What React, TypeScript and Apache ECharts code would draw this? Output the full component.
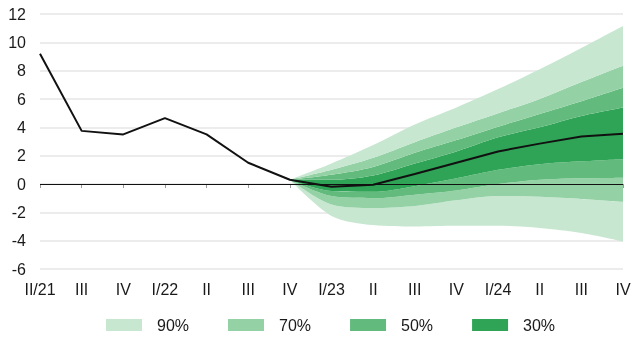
import React, { useEffect, useRef } from "react";
import * as echarts from "echarts";

const categories = ["II/21", "III", "IV", "I/22", "II", "III", "IV", "I/23", "II", "III", "IV", "I/24", "II", "III", "IV"];

// Observed / central projection
const centralLine = [9.2, 3.75, 3.5, 4.65, 3.5, 1.5, 0.3, -0.2, -0.05, 0.7, 1.5, 2.3, 2.85, 3.35, 3.55];

// Fan bounds (from IV/22 on; earlier quarters have no band)
const hi90 = [null, null, null, null, null, null, 0.3, 1.45, 2.75, 4.2, 5.4, 6.7, 8.1, 9.6, 11.15];
const hi70 = [null, null, null, null, null, null, 0.3, 1.0, 1.85, 2.95, 4.0, 5.0, 6.0, 7.2, 8.35];
const hi50 = [null, null, null, null, null, null, 0.3, 0.65, 1.2, 2.2, 3.1, 4.05, 4.95, 5.85, 6.8];
const hi30 = [null, null, null, null, null, null, 0.3, 0.3, 0.6, 1.45, 2.3, 3.3, 4.0, 4.8, 5.4];
const lo30 = [null, null, null, null, null, null, 0.3, -0.5, -0.55, -0.15, 0.4, 1.0, 1.4, 1.6, 1.75];
const lo50 = [null, null, null, null, null, null, 0.3, -0.85, -1.0, -0.75, -0.45, 0.0, 0.3, 0.4, 0.45];
const lo70 = [null, null, null, null, null, null, 0.3, -1.45, -1.7, -1.55, -1.15, -0.85, -0.9, -1.05, -1.25];
const lo90 = [null, null, null, null, null, null, 0.3, -2.25, -2.9, -3.0, -2.95, -2.95, -3.1, -3.45, -4.05];

const bandNames = ["90%", "70%", "50%", "30%"];
const bandColors = ["#c8e7d1", "#94d2a6", "#62ba7c", "#2fa456"];

const FONT = "'Liberation Sans', Arial, Helvetica, sans-serif";
const TEXT = "#1a1a1a";

function diff(a: (number | null)[], b: (number | null)[]) {
  return a.map((v, i) => (v == null || b[i] == null ? null : +((v as number) - (b[i] as number)).toFixed(4)));
}

export default function App() {
  const ref = useRef<HTMLDivElement>(null);

  useEffect(() => {
    if (!ref.current) return;
    const chart = echarts.init(ref.current, undefined, { renderer: "svg" });

    const bandBase = {
      type: "line",
      stack: "fan",
      stackStrategy: "all",
      symbol: "none",
      showSymbol: false,
      smooth: 0.3,
      silent: true,
      lineStyle: { width: 0, opacity: 0 },
      emphasis: { disabled: true },
      z: 2,
    };

    const bands = [
      { name: "base", data: lo90, color: "transparent", area: false },
      { name: "90%", data: diff(lo70, lo90), color: bandColors[0], area: true },
      { name: "70%", data: diff(lo50, lo70), color: bandColors[1], area: true },
      { name: "50%", data: diff(lo30, lo50), color: bandColors[2], area: true },
      { name: "30%", data: diff(hi30, lo30), color: bandColors[3], area: true },
      { name: "50%", data: diff(hi50, hi30), color: bandColors[2], area: true },
      { name: "70%", data: diff(hi70, hi50), color: bandColors[1], area: true },
      { name: "90%", data: diff(hi90, hi70), color: bandColors[0], area: true },
    ];

    const series: any[] = bands.map((b) => ({
      ...bandBase,
      name: b.name,
      data: b.data,
      color: b.color,
      itemStyle: { color: b.color },
      areaStyle: b.area ? { color: b.color, opacity: 1 } : undefined,
    }));

    series.push({
      type: "line",
      name: "central",
      data: centralLine,
      symbol: "none",
      showSymbol: false,
      smooth: false,
      silent: true,
      z: 10,
      lineStyle: { color: "#111111", width: 2 },
      itemStyle: { color: "#111111" },
      markLine: {
        silent: true,
        symbol: "none",
        label: { show: false },
        lineStyle: { color: "#111111", width: 1, type: "solid" },
        data: [{ yAxis: 0 }],
        z: 9,
      },
    });

    chart.setOption({
      animation: false,
      textStyle: { fontFamily: FONT },
      grid: { left: 40, right: 17, top: 14, bottom: 69, containLabel: false },
      xAxis: {
        type: "category",
        data: categories,
        boundaryGap: false,
        offset: 8,
        axisLine: { show: false },
        axisTick: { show: true, length: 4, alignWithLabel: true, lineStyle: { color: "#9a9a9a", width: 1 } },
        axisLabel: { interval: 0, margin: 4, fontSize: 16, color: TEXT, fontFamily: FONT },
        splitLine: { show: false },
      },
      yAxis: {
        type: "value",
        min: -6,
        max: 12,
        interval: 2,
        axisLine: { show: false },
        axisTick: { show: false },
        axisLabel: { margin: 14, fontSize: 16, color: TEXT, fontFamily: FONT },
        splitLine: { show: true, lineStyle: { color: "#e6e6e6", width: 1.5 } },
      },
      legend: {
        data: bandNames.map((n, i) => ({ name: n, itemStyle: { color: bandColors[i] } })),
        icon: "rect",
        left: 106,
        top: 317,
        itemWidth: 36,
        itemHeight: 12,
        itemGap: 39,
        padding: 0,
        selectedMode: false,
        textStyle: { fontSize: 16, color: TEXT, fontFamily: FONT, padding: [0, 0, 0, 10] },
      },
      series,
    });

    return () => chart.dispose();
  }, []);

  return <div ref={ref} style={{ position: "fixed", left: 0, top: 0, width: 640, height: 338 }} />;
}
